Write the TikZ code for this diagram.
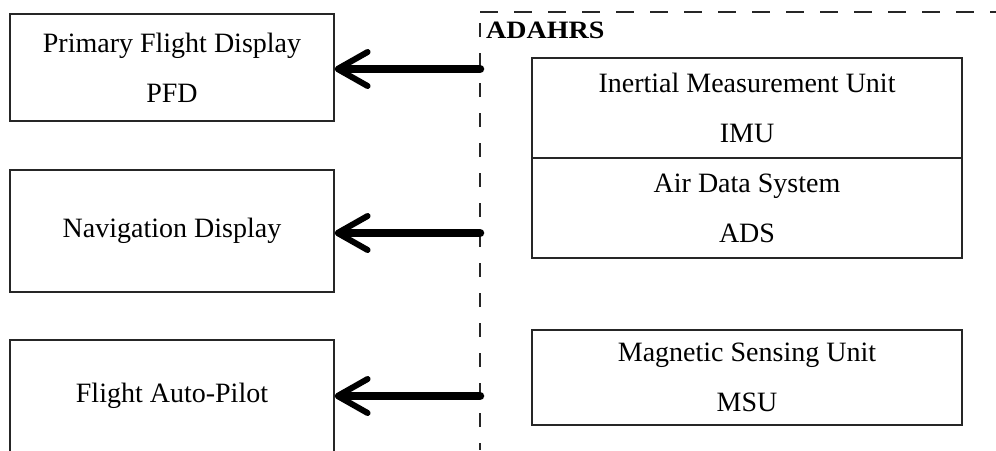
\documentclass[tikz,border=0pt]{standalone}
\usepackage{fontspec}
\setmainfont{Liberation Serif}
\usetikzlibrary{arrows.meta}
\begin{document}
\begin{tikzpicture}[x=1pt,y=-1pt,
  unitbox/.style={draw=black!85,line width=1.2pt,rectangle,inner sep=0pt,
    align=center,font=\fontsize{28}{50}\selectfont},
  feed/.style={line width=8.5pt,line cap=round,
    -{Straight Barb[length=30pt,width=34pt,line width=6pt,round]}},
  boundary/.style={draw=black!85,line width=1.3pt}
]
\useasboundingbox (0,0) rectangle (996,450);

% display side
\node[unitbox,minimum width=324pt,minimum height=107pt] (pfd) at (172,67.5)
  {Primary Flight Display\\PFD};
\node[unitbox,minimum width=324pt,minimum height=122pt] (nav) at (172,231)
  {Navigation Display};
\node[unitbox,minimum width=324pt,minimum height=112pt] (fap) at (172,396)
  {Flight Auto-Pilot};

% ADAHRS boundary
\coordinate (bTop) at (480,12);
\coordinate (bRight) at (996,12);
\coordinate (bV) at (480,23);
\coordinate (bBot) at (480,450);
\draw[boundary,dash pattern=on 18pt off 16pt] (bTop) -- (bRight);
\draw[boundary,dash pattern=on 14pt off 16pt] (bV) -- (bBot);
\node[anchor=west,inner sep=0pt,font=\fontsize{25}{28}\selectfont\bfseries] (adahrs) at (486,30)
  {\scalebox{1.12}[1]{ADAHRS}};

% sensor units
\node[unitbox,minimum width=430pt,minimum height=100pt] (imu) at (747,108)
  {Inertial Measurement Unit\\IMU};
\node[unitbox,minimum width=430pt,minimum height=100pt] (ads) at (747,208)
  {Air Data System\\ADS};
\node[unitbox,minimum width=430pt,minimum height=95pt] (msu) at (747,377.5)
  {Magnetic Sensing Unit\\MSU};

% outputs leaving the boundary
\coordinate (o1) at (480,69);
\coordinate (o2) at (480,233);
\coordinate (o3) at (480,396);
\draw[feed] (o1) -- (o1 -| pfd.east);
\draw[feed] (o2) -- (o2 -| nav.east);
\draw[feed] (o3) -- (o3 -| fap.east);
\end{tikzpicture}
\end{document}
